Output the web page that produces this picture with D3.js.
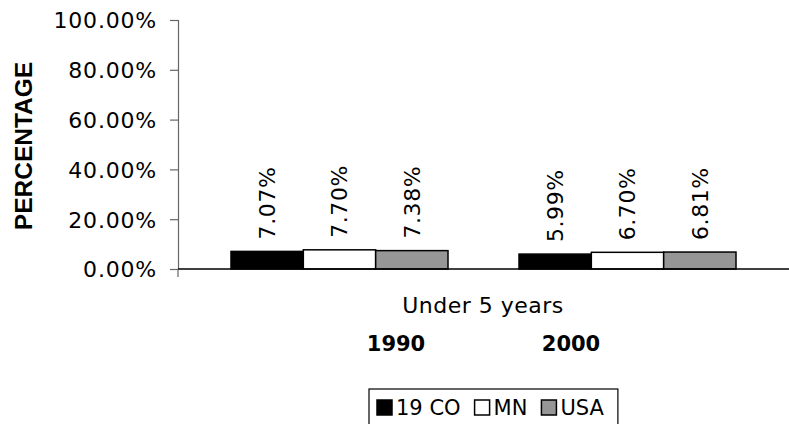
<!DOCTYPE html>
<html>
<head>
<meta charset="utf-8">
<script src="https://cdn.jsdelivr.net/npm/d3@7"></script>
<style>
  html, body { margin: 0; padding: 0; background: #fff; }
  svg { display: block; }
  text { font-family: "DejaVu Sans", Verdana, sans-serif; fill: #000; }
</style>
</head>
<body>
<svg id="chart" width="789" height="424"></svg>
<script>
// Chart data
const years = ["1990", "2000"];
const seriesNames = ["19 CO", "MN", "USA"];
const seriesColors = ["#000000", "#ffffff", "#969696"];
const values = {
  "1990": [7.07, 7.70, 7.38],
  "2000": [5.99, 6.70, 6.81],
};
const yTicks = [0, 20, 40, 60, 80, 100];
const categoryLabel = "Under 5 years";
const yTitle = "PERCENTAGE";

const svg = d3.select("#chart");

const CONFIG = {
  left: 178,
  right: 789,
  top: 20,
  bottom: 269,
  fontSize: 22,
};

const y = d3.scaleLinear().domain([0, 100]).range([CONFIG.bottom, CONFIG.top]);

const x0 = d3.scaleBand()
  .domain(years)
  .range([CONFIG.left, CONFIG.right])
  .paddingInner(0.2465)
  .paddingOuter(0.184);

const x1 = d3.scaleBand()
  .domain(seriesNames)
  .range([0, x0.bandwidth()]);

// Y axis
const yAxis = svg.append("g")
  .attr("transform", `translate(${CONFIG.left},0)`)
  .call(d3.axisLeft(y)
    .tickValues(yTicks)
    .tickSize(8)
    .tickPadding(13)
    .tickFormat(d => d3.format(".2f")(d) + "%"));

yAxis.select(".domain").attr("stroke", "#666").attr("stroke-width", 1.2);
yAxis.selectAll(".tick line").attr("stroke", "#666").attr("stroke-width", 1.2);
yAxis.selectAll(".tick text")
  .style("font-size", CONFIG.fontSize + "px")
  .style("letter-spacing", "0.8px")
  .attr("fill", "#000")
  .attr("dy", "0.36em");

// Y axis title
svg.append("text")
  .attr("transform", `translate(32,146) rotate(-90)`)
  .attr("text-anchor", "middle")
  .style("font-family", "'Liberation Sans', Arial, sans-serif")
  .style("font-weight", "bold")
  .style("font-size", "24.5px")
  .text(yTitle);

// Bars
const groups = svg.selectAll(".group")
  .data(years)
  .enter()
  .append("g")
  .attr("class", "group")
  .attr("transform", d => `translate(${x0(d)},0)`);

groups.selectAll("rect")
  .data(d => values[d].map((v, i) => ({ name: seriesNames[i], value: v, color: seriesColors[i] })))
  .enter()
  .append("rect")
  .attr("x", d => x1(d.name))
  .attr("width", x1.bandwidth())
  .attr("y", d => y(d.value))
  .attr("height", d => y(0) - y(d.value))
  .attr("fill", d => d.color)
  .attr("stroke", "#000")
  .attr("stroke-width", 1.5);

// Value labels
groups.selectAll(".label")
  .data(d => values[d].map((v, i) => ({ name: seriesNames[i], value: v })))
  .enter()
  .append("text")
  .attr("class", "label")
  .attr("transform", d => `translate(${x1(d.name) + x1.bandwidth() / 2},${y(d.value) - 12}) rotate(-90)`)
  .attr("dy", "0.36em")
  .style("font-size", CONFIG.fontSize + "px")
  .style("letter-spacing", "0.6px")
  .text(d => d.value.toFixed(2) + "%");

// X axis line
svg.append("line")
  .attr("x1", CONFIG.left)
  .attr("x2", CONFIG.right)
  .attr("y1", y(0))
  .attr("y2", y(0))
  .attr("stroke", "#000")
  .attr("stroke-width", 1.5);

svg.append("line")
  .attr("x1", CONFIG.left)
  .attr("x2", CONFIG.left)
  .attr("y1", y(0))
  .attr("y2", y(0) + 8)
  .attr("stroke", "#666")
  .attr("stroke-width", 1.2);

// Category labels
svg.append("text")
  .attr("x", 483)
  .attr("y", 313)
  .attr("text-anchor", "middle")
  .style("font-size", CONFIG.fontSize + "px")
  .style("letter-spacing", "0.5px")
  .text(categoryLabel);

const yearLabelX = d3.scalePoint().domain(years).range([396, 571]);

svg.selectAll(".year")
  .data(years)
  .enter()
  .append("text")
  .attr("class", "year")
  .attr("x", d => yearLabelX(d))
  .attr("y", 351)
  .attr("text-anchor", "middle")
  .style("font-size", "21px")
  .style("font-weight", "bold")
  .text(d => d);

// Legend
const legend = svg.append("g").attr("transform", "translate(369,389)");
const legendBox = legend.append("rect")
  .attr("x", 0)
  .attr("y", 0)
  .attr("height", 40)
  .attr("fill", "#fff")
  .attr("stroke", "#000")
  .attr("stroke-width", 1.2);

let cursor = 8;
seriesNames.forEach((name, i) => {
  legend.append("rect")
    .attr("x", cursor)
    .attr("y", 11)
    .attr("width", 15)
    .attr("height", 15)
    .attr("fill", seriesColors[i])
    .attr("stroke", "#000")
    .attr("stroke-width", 1.5);
  const label = legend.append("text")
    .attr("x", cursor + 19)
    .attr("y", 26)
    .style("font-size", "21px")
    .text(name);
  cursor += 19 + label.node().getComputedTextLength() + 14;
});
legendBox.attr("width", cursor);
</script>
</body>
</html>
